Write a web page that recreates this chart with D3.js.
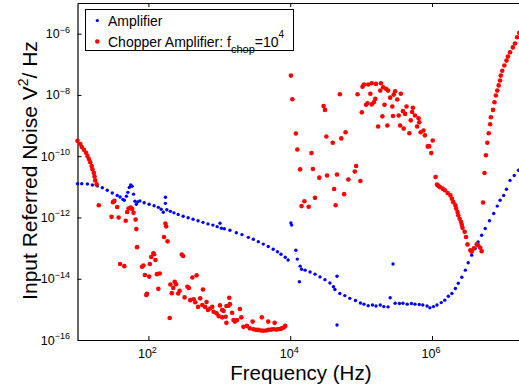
<!DOCTYPE html>
<html>
<head>
<meta charset="utf-8">
<script src="https://cdn.jsdelivr.net/npm/d3@7"></script>
<style>
  body { margin: 0; background: #fff; }
  svg { display: block; font-family: "Liberation Sans", Arial, Helvetica, sans-serif; }
</style>
</head>
<body>
<svg id="chart" width="519" height="385"></svg>
<script>
const ampLogF = [1.00,1.06,1.14,1.21,1.28,1.35,1.42,1.49,1.56,1.60,
  1.64,1.66,1.69,1.71,1.73,1.75,1.77,1.79,1.81,1.83,
  1.85,1.88,1.94,2.01,2.08,2.14,2.18,2.21,2.24,2.24,
  2.26,2.31,2.36,2.42,2.49,2.56,2.63,2.70,2.77,2.84,
  2.91,2.97,3.01,3.03,3.07,3.15,3.24,3.32,3.41,3.48,
  3.55,3.62,3.69,3.76,3.82,3.87,3.93,3.97,4.01,4.02,
  4.08,4.10,4.13,4.14,4.16,4.21,4.28,4.35,4.42,4.49,
  4.56,4.61,4.63,4.66,4.66,4.70,4.77,4.84,4.92,4.99,
  5.04,5.10,5.16,5.21,5.27,5.32,5.38,5.41,5.45,5.48,
  5.54,5.59,5.65,5.71,5.76,5.82,5.87,5.93,5.97,6.02,
  6.07,6.13,6.18,6.23,6.28,6.33,6.37,6.42,6.47,6.51,
  6.56,6.61,6.65,6.70,6.75,6.81,6.87,6.92,6.96,7.01,
  7.05,7.10,7.16,7.22];
const ampLogN = [-10.90,-10.90,-10.91,-10.94,-10.97,-11.03,-11.11,-11.20,-11.28,-11.33,
  -11.41,-11.44,-11.31,-11.18,-11.02,-10.94,-10.98,-11.24,-11.47,-11.57,
  -11.49,-11.46,-11.52,-11.57,-11.62,-11.67,-11.73,-11.83,-11.34,-11.54,
  -11.75,-11.80,-11.85,-11.90,-11.96,-12.01,-12.06,-12.11,-12.16,-12.21,
  -12.25,-12.30,-12.19,-12.35,-12.37,-12.42,-12.50,-12.56,-12.65,-12.71,
  -12.79,-12.87,-12.95,-13.04,-13.12,-13.20,-13.30,-13.39,-12.18,-12.25,
  -13.07,-13.36,-14.10,-13.59,-13.69,-13.72,-13.78,-13.85,-13.94,-14.03,
  -14.14,-14.26,-14.35,-13.92,-15.51,-14.48,-14.55,-14.64,-14.71,-14.79,
  -14.83,-14.88,-14.86,-14.89,-14.86,-14.91,-14.92,-14.62,-13.52,-14.80,
  -14.81,-14.80,-14.83,-14.81,-14.83,-14.84,-14.86,-14.89,-14.95,-14.91,
  -14.86,-14.78,-14.70,-14.57,-14.48,-14.32,-14.15,-13.95,-13.72,-13.48,
  -13.23,-13.01,-12.80,-12.58,-12.36,-12.11,-11.87,-11.63,-11.44,-11.28,
  -11.08,-10.79,-10.63,-10.46];

const chopLogF = [1.00,1.04,1.06,1.09,1.12,1.14,1.16,1.18,1.20,1.21,1.23,1.24,1.25,1.27,1.30,
  1.48,1.50,1.52,1.56,1.58,1.68,1.70,1.72,1.75,1.77,1.79,1.82,1.83,2.24,2.25,2.22,2.27,
  1.60,1.66,1.84,1.91,1.93,1.95,2.01,1.97,1.98,2.02,2.04,2.07,2.08,2.10,2.12,2.16,2.14,
  2.30,2.31,2.35,2.37,2.39,2.33,2.42,2.44,2.47,2.49,2.51,2.55,2.57,2.59,2.62,2.64,2.68,2.66,2.70,2.73,
  2.77,2.76,2.80,2.82,2.84,2.87,2.90,2.92,2.96,3.01,2.99,3.04,3.06,3.09,3.10,3.10,
  3.04,3.13,3.15,3.14,3.18,3.20,3.22,3.25,3.29,3.31,3.34,3.39,3.43,3.47,3.48,3.52,3.55,3.60,3.59,3.62,
  3.66,3.69,3.69,3.73,3.76,3.78,3.80,3.83,3.86,3.88,3.91,3.93,
  4.01,4.03,4.08,4.10,4.14,4.20,4.16,4.26,4.30,4.32,4.35,4.41,4.47,4.49,4.51,4.52,4.60,4.62,4.64,4.66,
  4.70,4.72,4.76,4.78,4.82,4.91,4.93,4.95,4.99,5.01,5.02,5.04,5.07,5.09,5.10,5.13,5.15,5.15,5.18,5.20,
  5.21,5.24,
  5.27,5.28,5.30,5.31,5.33,5.35,5.37,5.38,5.41,5.44,5.45,5.46,5.48,5.51,5.53,5.55,5.56,5.59,5.60,5.62,
  5.64,5.68,5.70,5.72,5.73,5.76,5.79,5.81,5.82,5.84,5.88,5.90,5.94,5.96,5.99,6.01,
  6.05,6.07,6.09,6.11,6.15,6.18,6.22,6.26,6.28,6.30,6.33,6.34,6.36,6.37,6.39,6.41,6.42,6.43,6.46,6.48,
  6.50,6.54,6.56,6.59,6.63,6.65,6.68,6.70,
  6.72,6.74,6.76,6.78,6.80,6.82,6.83,6.86,6.88,6.90,6.92,6.94,6.96,6.97,6.99,7.02,7.05,7.07,7.10,7.14,
  7.17,7.20,7.23,7.26];
const chopLogN = [-9.50,-9.60,-9.70,-9.79,-9.89,-9.99,-10.09,-10.20,-10.32,-10.43,-10.54,-10.66,-10.79,-10.92,-11.60,
  -11.98,-11.50,-11.46,-11.66,-12.00,-12.11,-11.82,-11.71,-11.68,-11.72,-11.85,-12.07,-12.38,-12.20,-12.29,-12.64,-12.78,
  -13.52,-13.59,-12.97,-13.61,-13.57,-13.88,-13.93,-14.53,-14.49,-13.52,-13.29,-13.17,-13.20,-13.39,-13.85,-13.83,-14.33,
  -15.28,-14.19,-14.30,-14.10,-14.18,-14.47,-14.48,-14.39,-13.21,-13.26,-14.61,-14.26,-14.30,-14.70,-13.96,-14.67,-13.89,-14.77,-14.92,-14.64,
  -14.35,-14.86,-14.92,-14.76,-15.02,-14.97,-14.92,-15.08,-15.13,-14.87,-15.22,-15.02,-15.05,-15.24,-14.89,-15.44,
  -15.26,-14.88,-14.83,-14.62,-15.11,-15.35,-15.40,-15.35,-14.99,-15.26,-15.57,-15.54,-15.62,-15.40,-15.65,-15.67,-15.67,-15.26,-15.69,-15.70,
  -15.69,-15.40,-15.67,-15.66,-15.65,-15.44,-15.66,-15.65,-15.64,-15.62,-15.59,-15.54,
  -7.37,-8.14,-9.26,-9.78,-10.43,-11.47,-11.63,-11.65,-9.90,-10.42,-11.36,-10.70,-8.36,-8.49,-9.36,-10.63,-9.56,-11.07,-11.60,-10.60,
  -7.98,-9.42,-11.24,-9.22,-10.76,-10.50,-10.32,-7.98,-10.81,-8.57,-7.73,-7.66,-8.32,-8.27,-7.66,-7.96,-7.62,-8.31,-8.24,-8.13,
  -7.64,-9.03,
  -7.86,-7.62,-8.70,-7.75,-8.32,-7.80,-9.00,-7.86,-8.09,-8.38,-8.69,-7.99,-7.88,-8.15,-8.67,-9.00,-7.96,-8.53,-9.10,-8.62,
  -8.38,-9.25,-8.83,-8.56,-8.42,-8.67,-9.03,-8.76,-8.89,-9.22,-9.16,-9.32,-9.68,-9.68,-9.90,-9.49,
  -10.68,-10.93,-10.97,-11.01,-11.06,-11.11,-11.20,-11.28,-11.39,-11.50,-11.60,-11.71,-11.82,-11.93,-12.04,-12.15,-12.24,-12.34,-12.47,-12.64,
  -12.88,-13.07,-13.12,-13.01,-12.88,-12.91,-12.99,-13.10,
  -11.51,-10.55,-9.97,-9.56,-9.25,-8.96,-8.73,-8.49,-8.24,-8.02,-7.86,-7.69,-7.53,-7.37,-7.21,-7.04,-6.88,-6.75,-6.61,-6.45,
  -6.32,-6.12,-5.97,-5.80];

const xTickExp = [2, 4, 6];
const yTickExp = [-16, -14, -12, -10, -8, -6];
const seriesNames = ['Amplifier', 'Chopper Amplifier: f'];

const amp = ampLogF.map((f, i) => ({ f: 10 ** f, n: 10 ** ampLogN[i] }));
const chop = chopLogF.map((f, i) => ({ f: 10 ** f, n: 10 ** chopLogN[i] }));

const svg = d3.select('#chart');
const plotL = 77.5, plotR = 524.2, plotT = 3, plotB = 340;

const x = d3.scaleLog().domain([10, 10 ** 7.3]).range([plotL, plotR]);
const y = d3.scaleLog().domain([1e-16, 1e-5]).range([plotB, plotT]);

// axes, MATLAB style: ticks pointing inwards, labels drawn separately
const axStyle = g => {
  g.selectAll('path').attr('stroke', '#000').attr('stroke-width', 1.2);
  g.selectAll('line').attr('stroke', '#000').attr('stroke-width', 1);
};
svg.append('g')
  .attr('transform', `translate(0,${plotB})`)
  .call(d3.axisBottom(x).tickValues(xTickExp.map(e => 10 ** e)).tickSize(-4).tickSizeOuter(0).tickFormat(''))
  .call(axStyle);
svg.append('g')
  .attr('transform', `translate(0,${plotT})`)
  .call(d3.axisTop(x).tickValues(xTickExp.map(e => 10 ** e)).tickSize(-4).tickSizeOuter(0).tickFormat(''))
  .call(axStyle);
svg.append('g')
  .attr('transform', `translate(${plotL},0)`)
  .call(d3.axisLeft(y).tickValues(yTickExp.map(e => 10 ** e)).tickSize(-4).tickSizeOuter(0).tickFormat(''))
  .call(axStyle);

// tick labels with superscript exponents
const xl = svg.append('g').attr('font-size', 12.5).attr('fill', '#000');
xTickExp.forEach(e => {
  const t = xl.append('text').attr('x', x(10 ** e) - 1).attr('y', 358).attr('text-anchor', 'middle');
  t.append('tspan').text('10');
  t.append('tspan').attr('dy', -5.5).attr('font-size', 9).text(e);
});
const yl = svg.append('g').attr('font-size', 12.5).attr('fill', '#000');
yTickExp.forEach(e => {
  const t = yl.append('text').attr('x', 70).attr('y', y(10 ** e) + 4.5).attr('text-anchor', 'end');
  t.append('tspan').text('10');
  t.append('tspan').attr('dy', -5.5).attr('font-size', 9).text('\u2212' + Math.abs(e));
});

// axis titles
svg.append('text')
  .attr('x', (plotL + plotR) / 2).attr('y', 379.5)
  .attr('text-anchor', 'middle').attr('font-size', 20.5)
  .text('Frequency (Hz)');
const yt = svg.append('text')
  .attr('transform', 'translate(37,170.5) rotate(-90)')
  .attr('text-anchor', 'middle').attr('font-size', 21);
yt.append('tspan').text('Input Referred Noise V');
yt.append('tspan').attr('dy', -9).attr('font-size', 14).text('2');
yt.append('tspan').attr('dy', 9).text('/ Hz');

// data
svg.append('g').selectAll('circle').data(amp).join('circle')
  .attr('cx', d => x(d.f)).attr('cy', d => y(d.n)).attr('r', 1.7).attr('fill', '#0000ff');
svg.append('g').selectAll('circle').data(chop).join('circle')
  .attr('cx', d => x(d.f)).attr('cy', d => y(d.n)).attr('r', 2.3).attr('fill', '#ff0000');

// legend
const lg = svg.append('g').attr('font-size', 14);
lg.append('rect').attr('x', 85.5).attr('y', 9.5).attr('width', 208).attr('height', 41)
  .attr('fill', '#fff').attr('stroke', '#000').attr('stroke-width', 1);
lg.append('circle').attr('cx', 97.3).attr('cy', 20.5).attr('r', 1.6).attr('fill', '#0000ff');
lg.append('circle').attr('cx', 97.3).attr('cy', 41.5).attr('r', 2.3).attr('fill', '#ff0000');
lg.append('text').attr('x', 108).attr('y', 26).text(seriesNames[0]);
const lt = lg.append('text').attr('x', 108).attr('y', 46.5);
lt.append('tspan').text(seriesNames[1]);
lt.append('tspan').attr('dy', 6).attr('font-size', 11).text('chop');
lt.append('tspan').attr('dy', -6).text('=10');
lt.append('tspan').attr('dy', -9).attr('font-size', 10).text('4');
</script>
</body>
</html>
